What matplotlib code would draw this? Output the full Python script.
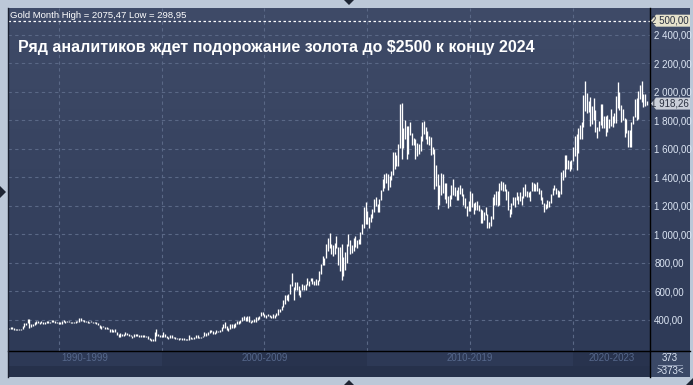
import numpy as np
import pandas as pd
import matplotlib
matplotlib.use("Agg")
import matplotlib.pyplot as plt
from matplotlib.patches import Polygon, FancyBboxPatch

plt.rcParams["font.family"] = ["Liberation Sans", "DejaVu Sans"]

# monthly gold bars, Aug 1992 .. Aug 2023 (373 bars)
start_month = "1992-08"
month_high = [
    346, 352, 350, 341, 339,
    334, 336, 339, 360, 378, 381, 406, 406, 371, 373, 385, 395,
    396, 387, 392, 385, 389, 396, 390, 386, 398, 397, 392, 385,
    383, 383, 396, 397, 392, 392, 391, 389, 388, 387, 390, 390,
    417, 416, 403, 397, 396, 392, 389, 392, 387, 386, 384, 381,
    367, 356, 356, 352, 351, 346, 337, 333, 332, 335, 318, 301,
    305, 302, 303, 316, 306, 300, 297, 290, 298, 302, 301, 297,
    292, 292, 294, 289, 290, 274, 264, 263, 312, 338, 300, 296,
    292, 317, 302, 289, 280, 292, 292, 280, 278, 276, 271, 276,
    275, 270, 268, 267, 294, 278, 272, 280, 297, 292, 281, 280,
    288, 312, 307, 312, 327, 332, 325, 318, 327, 325, 326, 349,
    372, 389, 354, 340, 374, 372, 370, 377, 392, 391, 400, 418,
    428, 418, 428, 429, 394, 402, 410, 418, 419, 430, 456, 457,
    440, 437, 445, 437, 430, 441, 436, 447, 474, 477, 497, 538,
    572, 573, 580, 655, 730, 632, 665, 663, 638, 608, 649, 643,
    652, 691, 673, 697, 693, 672, 686, 679, 746, 795, 848, 837,
    930, 975, 1011, 934, 926, 940, 987, 915, 911, 935, 845, 880,
    936, 1006, 962, 927, 977, 990, 960, 971, 1018, 1070, 1195, 1227,
    1162, 1124, 1143, 1180, 1249, 1265, 1213, 1251, 1309, 1388, 1424, 1431,
    1426, 1411, 1447, 1575, 1577, 1555, 1632, 1912, 1922, 1747, 1804, 1763,
    1763, 1791, 1710, 1677, 1668, 1640, 1633, 1691, 1787, 1795, 1754, 1724,
    1694, 1684, 1617, 1598, 1487, 1422, 1348, 1434, 1426, 1361, 1362, 1267,
    1280, 1345, 1392, 1331, 1315, 1332, 1345, 1324, 1287, 1255, 1199, 1238,
    1307, 1293, 1224, 1225, 1232, 1205, 1175, 1170, 1157, 1191, 1143, 1088,
    1128, 1263, 1284, 1304, 1303, 1362, 1375, 1367, 1352, 1318, 1305, 1181,
    1220, 1264, 1261, 1295, 1269, 1296, 1270, 1330, 1357, 1306, 1299, 1307,
    1366, 1361, 1356, 1369, 1326, 1309, 1266, 1221, 1214, 1243, 1237, 1284,
    1326, 1346, 1324, 1310, 1306, 1439, 1452, 1555, 1557, 1519, 1516, 1524,
    1611, 1689, 1704, 1747, 1765, 1789, 1981, 2075, 1992, 1933, 1965, 1900,
    1959, 1872, 1755, 1798, 1912, 1916, 1832, 1834, 1836, 1813, 1877, 1831,
    1853, 1974, 2070, 1998, 1909, 1879, 1814, 1807, 1735, 1730, 1786, 1833,
    1949, 1959, 2009, 2048, 2079, 1983, 1987, 1935,
]
month_low = [
    336, 338, 337, 331, 330,
    326, 326, 326, 337, 352, 365, 376, 346, 349, 354, 367, 370,
    377, 374, 377, 368, 374, 376, 377, 376, 383, 382, 380, 375,
    370, 371, 374, 385, 381, 382, 382, 380, 380, 381, 380, 383,
    386, 395, 393, 389, 389, 380, 379, 384, 378, 378, 372, 365,
    342, 339, 347, 337, 337, 335, 314, 318, 317, 317, 296, 281,
    277, 290, 286, 296, 292, 286, 287, 272, 281, 288, 290, 283,
    283, 283, 277, 278, 268, 258, 251, 251, 253, 288, 287, 278,
    280, 280, 279, 273, 268, 272, 276, 271, 267, 263, 262, 268,
    262, 256, 257, 256, 262, 265, 265, 266, 271, 275, 270, 271,
    277, 288, 289, 296, 307, 313, 300, 302, 311, 312, 313, 320,
    342, 345, 326, 319, 336, 343, 341, 347, 370, 368, 380, 393,
    398, 393, 392, 388, 375, 384, 386, 387, 398, 410, 425, 432,
    418, 413, 425, 424, 413, 416, 417, 428, 437, 459, 469, 490,
    514, 541, 535, 582, 640, 542, 608, 613, 573, 560, 612, 610,
    607, 647, 637, 670, 653, 643, 644, 648, 671, 725, 783, 782,
    835, 887, 905, 865, 850, 860, 902, 786, 740, 681, 706, 752,
    801, 917, 866, 870, 887, 912, 905, 930, 935, 1002, 1043, 1075,
    1075, 1044, 1086, 1118, 1156, 1201, 1154, 1157, 1242, 1306, 1329, 1360,
    1309, 1330, 1384, 1418, 1462, 1478, 1479, 1605, 1532, 1606, 1668, 1531,
    1564, 1697, 1628, 1626, 1526, 1550, 1564, 1587, 1656, 1702, 1673, 1635,
    1626, 1555, 1562, 1321, 1338, 1180, 1208, 1280, 1293, 1251, 1221, 1182,
    1202, 1251, 1277, 1268, 1241, 1240, 1282, 1273, 1204, 1183, 1131, 1167,
    1167, 1190, 1142, 1168, 1170, 1162, 1077, 1080, 1099, 1133, 1046, 1046,
    1061, 1111, 1208, 1209, 1199, 1208, 1310, 1302, 1302, 1241, 1171, 1123,
    1146, 1207, 1195, 1241, 1214, 1237, 1204, 1259, 1269, 1260, 1264, 1236,
    1302, 1307, 1303, 1302, 1281, 1245, 1211, 1160, 1180, 1182, 1196, 1221,
    1276, 1311, 1281, 1266, 1266, 1281, 1383, 1400, 1460, 1458, 1446, 1458,
    1517, 1548, 1451, 1568, 1671, 1671, 1757, 1863, 1849, 1860, 1764, 1775,
    1802, 1717, 1677, 1723, 1768, 1750, 1750, 1688, 1721, 1746, 1759, 1752,
    1780, 1781, 1890, 1872, 1787, 1805, 1681, 1709, 1615, 1617, 1616, 1773,
    1823, 1805, 1810, 1950, 1932, 1893, 1903, 1905,
]
last_price = 1918.26
target_price = 2500
price_ticks = [400, 600, 800, 1000, 1200, 1400, 1600, 1800, 2000, 2200, 2400]
period_labels = ["1990-1999", "2000-2009", "2010-2019", "2020-2023"]
header = "Gold Month High = 2075,47 Low = 298,95"
title = "Ряд аналитиков ждет подорожание золота до $2500 к концу 2024"

months = pd.period_range(start_month, periods=len(month_high), freq="M")
x = np.arange(len(months))

W, H = 693, 385
def box(l, t, r, b):
    return [l / W, 1 - b / H, (r - l) / W, (b - t) / H]

fig = plt.figure(figsize=(W / 100, H / 100), dpi=100)
fig.patch.set_facecolor("#bcc8d8")

# dark panel with vertical gradient
bg = fig.add_axes(box(8, 8, 690, 351))
bg.set_axis_off()
top = np.array([0x3f, 0x4b, 0x68]) / 255
bot = np.array([0x2e, 0x3a, 0x57]) / 255
t = np.linspace(0, 1, 200)[:, None]
grad = (top * (1 - t) + bot * t)[:, None, :]
bg.imshow(grad, aspect="auto", extent=[0, 1, 0, 1])
bg.set_xlim(0, 1)
bg.set_ylim(0, 1)

ax = fig.add_axes(box(8, 8, 650, 351))
ax.patch.set_alpha(0)
xlim = (-0.5, 373.8)
ax.set_xlim(*xlim)
ax.set_ylim(182, 2589)

# grid
grid_x = [i for i, m in enumerate(months) if m.month == 1 and m.year % 5 == 0]
for gx in grid_x:
    ax.axvline(gx, color="#5a6886", lw=0.8, ls=(0, (3, 3)), zorder=1)
for p in price_ticks:
    ax.axhline(p, color="#5a6886", lw=0.8, ls=(0, (3, 3)), zorder=1)
ax.axhline(target_price, color="white", lw=0.9, ls=(0, (2, 2)), zorder=2)

ax.vlines(x, month_low, month_high, color="white", lw=0.95, zorder=3)

ax.set_xticks([])
ax.yaxis.tick_right()
ax.set_yticks(price_ticks)
ax.set_yticklabels([f"{p:,.2f}".replace(",", " ").replace(".", ",") for p in price_ticks])
ax.tick_params(axis="y", length=0, pad=3, labelsize=7, labelcolor="#dde6f4")
for s in ax.spines.values():
    s.set_visible(False)

# header and title
ax.text(0.003, 0.977, header, transform=ax.transAxes, fontsize=6.8, color="white",
        ha="left", va="center")
ax.text(0.016, 0.885, title, transform=ax.transAxes, fontsize=11.5, color="white",
        fontweight="bold", ha="left", va="center")

# price markers on the right
def price_flag(price, face, txt):
    yy = ax.transData.transform((0, price))[1]
    yf = yy / (H)
    xl, xr = 651 / W, 690 / W
    h = 6 / H
    poly = Polygon([(xl, yf), (xl + 5 / W, yf + h), (xr, yf + h), (xr, yf - h), (xl + 5 / W, yf - h)],
                   closed=True, transform=fig.transFigure, facecolor=face, edgecolor="none", zorder=5)
    fig.patches.append(poly)
    fig.text(xr - 1 / W, yf, txt, fontsize=7, color="#2a3040", ha="right", va="center", zorder=6)

fig.canvas.draw()
price_flag(target_price, "#e6e2cc", "2 500,00")
price_flag(last_price, "#c9ced8", "1 918,26")

# bottom strip with periods
bx = fig.add_axes(box(8, 351, 650, 377))
bx.set_xlim(*xlim)
bx.set_ylim(0, 1)
bx.set_facecolor("#26314b")
bounds = [xlim[0]] + [i for i, m in enumerate(months) if m.month == 1 and m.year % 10 == 0] + [xlim[1]]
band_cols = ["#2d3956", "#28334e", "#2d3956", "#28334e"]
for k, lab in enumerate(period_labels):
    bx.axvspan(bounds[k], bounds[k + 1], ymin=0.42, ymax=1, color=band_cols[k], lw=0)
    bx.text((bounds[k] + bounds[k + 1]) / 2, 0.72, lab, ha="center", va="center",
            fontsize=7, color="#56688c")
bx.set_xticks([])
bx.set_yticks([])
for s in bx.spines.values():
    s.set_visible(False)

# bar count box
cx = fig.add_axes(box(650, 351, 690, 377))
cx.set_facecolor("#3a4866")
cx.set_xticks([])
cx.set_yticks([])
for s in cx.spines.values():
    s.set_visible(False)
cx.text(0.5, 0.72, str(len(month_high)), transform=cx.transAxes, ha="center", va="center",
        fontsize=7, color="#dde6f4")
cx.plot([0.2, 0.8], [0.46, 0.46], transform=cx.transAxes, color="#8a96b0", lw=0.7)
cx.text(0.5, 0.25, f">{len(month_high)}<", transform=cx.transAxes, ha="center", va="center",
        fontsize=7, color="#dde6f4")

# frame lines
fig.add_artist(plt.Line2D([650 / W, 650 / W], [1 - 8 / H, 1 - 377 / H], color="black", lw=1))
fig.add_artist(plt.Line2D([8 / W, 690 / W], [1 - 351 / H, 1 - 351 / H], color="black", lw=1))
fig.add_artist(plt.Line2D([8 / W, 8 / W], [1 - 8 / H, 1 - 377 / H], color="#1a2030", lw=1))

# small arrows on the frame
tri_col = "#1e2533"
for pts in ([(344, 0), (354, 0), (349, 5)],
            [(344, 385), (354, 385), (349, 380)],
            [(0, 186), (0, 198), (6, 192)],
            [(693, 378), (693, 385), (686, 385)]):
    fig.patches.append(Polygon([(px / W, 1 - py / H) for px, py in pts], closed=True,
                               transform=fig.transFigure, facecolor=tri_col, edgecolor="none"))

fig.savefig("out.png", dpi=100, facecolor=fig.get_facecolor())
